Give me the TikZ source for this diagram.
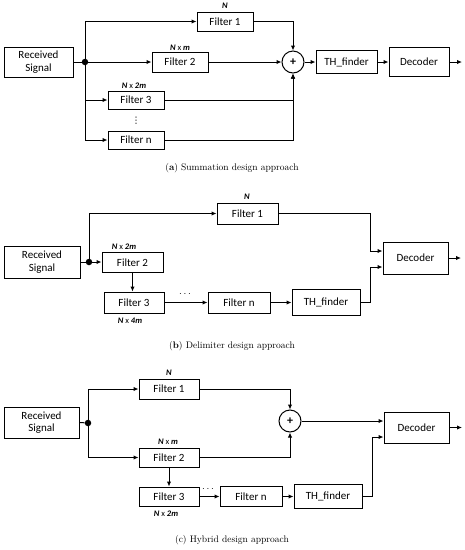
\documentclass[tikz,border=0pt]{standalone}
\usepackage{fontspec}
\newfontfamily\boxfont{Carlito}
\newfontfamily\symfont{DejaVu Sans}
\usetikzlibrary{arrows.meta,positioning,calc}
\begin{document}
\begin{tikzpicture}[x=1pt,y=-1pt,
  blk/.style={draw,line width=1pt,inner sep=0pt,align=center,font=\boxfont\fontsize{11}{12.5}\selectfont},
  sumnode/.style={draw,circle,line width=1pt,minimum size=22pt,inner sep=0pt,font=\boxfont\bfseries\fontsize{12}{12}\selectfont},
  jdot/.style={circle,fill,minimum size=6.5pt,inner sep=0pt},
  lbl/.style={inner sep=0pt,font=\boxfont\fontsize{8.5}{9}\selectfont},
  dotslbl/.style={inner sep=0pt,font=\boxfont\fontsize{10}{10}\selectfont},
  captext/.style={inner sep=0pt,font=\fontsize{9.5}{11}\selectfont},
  conn/.style={line width=1pt},
  arr/.style={line width=1pt,-{Latex[length=5pt,width=4.5pt]}}]
\useasboundingbox (0,0) rectangle (465,550);
\newcommand{\bi}[1]{\textbf{\textit{#1}}}
%% ---------- panel (a) ----------
\node[blk,minimum width=69pt,minimum height=30pt] (rsA) at (38.5,62) {Received\\Signal};
\node[jdot] (dotA) at (85,62) {};
\node[blk,minimum width=56pt,minimum height=19pt] (f1A) at (225,21.5) {Filter 1};
\node[blk,minimum width=56pt,minimum height=20pt] (f2A) at (180,62) {Filter 2};
\node[blk,minimum width=56pt,minimum height=18pt] (f3A) at (136,100) {Filter 3};
\node[blk,minimum width=56pt,minimum height=18pt] (fnA) at (136,140) {Filter n};
\node[sumnode] (sumA) at (293,62) {+};
\node[blk,minimum width=61pt,minimum height=23pt] (thA) at (346.5,62) {TH\_finder};
\node[blk,minimum width=60pt,minimum height=29pt] (decA) at (419,62) {Decoder};
\coordinate (outA) at (462,62);
\node[lbl] (lnA1) at (225,5.5) {\bi{N}};
\node[lbl] (lnA2) at (180,47.5) {\bi{N} x \bi{m}};
\node[lbl] (lnA3) at (134,85.5) {\bi{N} x \bi{2m}};
\node[inner sep=0pt,font=\symfont\fontsize{9}{9}\selectfont] (vdA) at (136,121) {⋮};
\draw[conn] (rsA.east) -- (dotA);
\draw[arr] (dotA) |- (f1A.west);
\draw[arr] (dotA) -- (f2A.west);
\draw[arr] (dotA) |- (f3A.west);
\draw[arr] (dotA) |- (fnA.west);
\draw[arr] (f1A.east) -| (sumA.north);
\draw[arr] (f2A.east) -- (sumA.west);
\draw[arr] (f3A.east) -| (sumA.south);
\draw[arr] (fnA.east) -| (sumA.south);
\draw[arr] (sumA.east) -- (thA.west);
\draw[arr] (thA.east) -- (decA.west);
\draw[arr] (decA.east) -- (outA);
\node[captext] (capA) at (232,168) {(\textbf{a}) Summation design approach};
%% ---------- panel (b) ----------
\node[blk,minimum width=76pt,minimum height=32pt] (rsB) at (42,262) {Received\\Signal};
\node[jdot] (dotB) at (89,262) {};
\node[blk,minimum width=61pt,minimum height=21pt] (f1B) at (247.5,213.5) {Filter 1};
\node[blk,minimum width=61pt,minimum height=20pt] (f2B) at (132.5,262.5) {Filter 2};
\node[blk,minimum width=60pt,minimum height=21pt] (f3B) at (134,302.5) {Filter 3};
\node[blk,minimum width=62pt,minimum height=21pt] (fnB) at (239,302.5) {Filter n};
\node[blk,minimum width=68pt,minimum height=26pt] (thB) at (326,302) {TH\_finder};
\node[blk,minimum width=65pt,minimum height=32pt] (decB) at (415.5,258) {Decoder};
\coordinate (outB) at (461,258);
\coordinate (jB1) at (370,213.5);
\coordinate (jB2) at (370,302);
\node[lbl] (lnB1) at (247,197) {\bi{N}};
\node[lbl] (lnB2) at (124,247) {\bi{N} x \bi{2m}};
\node[lbl] (lnB3) at (130,321) {\bi{N} x \bi{4m}};
\node[dotslbl] (dsB) at (185,294) {$\cdots$};
\draw[conn] (rsB.east) -- (dotB);
\draw[arr] (dotB) |- (f1B.west);
\draw[arr] (dotB) -- (f2B.west |- dotB);
\draw[arr] (f2B.south) -- (f2B.south |- f3B.north);
\draw[arr] (f3B.east) -- (fnB.west);
\draw[arr] (fnB.east) -- (thB.west |- fnB.east);
\draw[arr] (f1B.east) -- (jB1) |- ($(decB.west)+(0,-7)$);
\draw[arr] (thB.east) -- (jB2) |- ($(decB.west)+(0,9)$);
\draw[arr] (decB.east) -- (outB);
\node[captext] (capB) at (232,346) {(\textbf{b}) Delimiter design approach};
%% ---------- panel (c) ----------
\node[blk,minimum width=75pt,minimum height=31pt] (rsC) at (41.5,422.5) {Received\\Signal};
\node[jdot] (dotC) at (88,423) {};
\node[blk,minimum width=60pt,minimum height=20pt] (f1C) at (169,389) {Filter 1};
\node[blk,minimum width=60pt,minimum height=19pt] (f2C) at (169,457.5) {Filter 2};
\node[blk,minimum width=60pt,minimum height=19pt] (f3C) at (169,496.5) {Filter 3};
\node[blk,minimum width=62pt,minimum height=20pt] (fnC) at (251,496.5) {Filter n};
\node[blk,minimum width=68pt,minimum height=24pt] (thC) at (328,496) {TH\_finder};
\node[sumnode] (sumC) at (290,421) {+};
\node[blk,minimum width=65pt,minimum height=31pt] (decC) at (416.5,427.5) {Decoder};
\coordinate (outC) at (462,427.5);
\coordinate (jC) at (372,496);
\node[lbl] (lnC1) at (169,373) {\bi{N}};
\node[lbl] (lnC2) at (168,442) {\bi{N} x \bi{m}};
\node[lbl] (lnC3) at (166,514) {\bi{N} x \bi{2m}};
\node[dotslbl] (dsC) at (208,489) {$\cdots$};
\draw[conn] (rsC.east) -- (dotC);
\draw[arr] (dotC) |- (f1C.west);
\draw[arr] (dotC) |- (f2C.west);
\draw[arr] (f2C.south) -- (f3C.north);
\draw[arr] (f3C.east) -- (fnC.west);
\draw[arr] (fnC.east) -- (thC.west |- fnC.east);
\draw[arr] (f1C.east) -| (sumC.north);
\draw[arr] (f2C.east) -| (sumC.south);
\draw[arr] (sumC.east) -- (sumC.east -| decC.west);
\draw[arr] (thC.east) -- (jC) |- ($(decC.west)+(0,9.5)$);
\draw[arr] (decC.east) -- (outC);
\node[captext] (capC) at (232,540) {(c) Hybrid design approach};
\end{tikzpicture}
\end{document}
